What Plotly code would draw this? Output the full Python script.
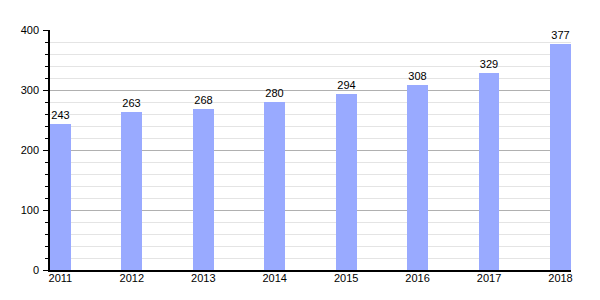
import plotly.graph_objects as go

years = [2011, 2012, 2013, 2014, 2015, 2016, 2017, 2018]
values = [243, 263, 268, 280, 294, 308, 329, 377]
y_ticks = [0, 100, 200, 300, 400]

fig = go.Figure()
fig.add_trace(go.Bar(
    x=years, y=values, width=0.29,
    marker=dict(color="#99aaff", line=dict(width=0)),
    text=[str(v) for v in values], textposition="outside",
    textfont=dict(family="Liberation Sans, Arial", size=11, color="#000"),
    cliponaxis=False,
))

fig.update_layout(
    width=600, height=300,
    margin=dict(l=50, r=29, t=30, b=30),
    paper_bgcolor="white", plot_bgcolor="white",
    showlegend=False,
    bargap=0,
    font=dict(family="Liberation Sans, Arial", size=11, color="#000"),
    xaxis=dict(
        range=[2010.855, 2018.147],
        tickmode="array", tickvals=years, ticktext=[str(y) for y in years],
        showgrid=False, zeroline=False,
        showline=True, linecolor="#000", linewidth=1.5,
        ticks="", ticklen=0, ticklabelstandoff=-3,
        tickfont=dict(size=11, color="#000"),
    ),
    yaxis=dict(
        range=[0, 400],
        tickmode="array", tickvals=y_ticks,
        showgrid=True, gridcolor="#b0b0b0", gridwidth=1,
        zeroline=False,
        showline=True, linecolor="#000", linewidth=1.5,
        ticks="outside", ticklen=5, tickcolor="#000", tickwidth=1,
        ticklabelstandoff=2,
        tickfont=dict(size=11, color="#000"),
        minor=dict(dtick=20, showgrid=True, gridcolor="#e4e4e4", gridwidth=1,
                   ticks="outside", ticklen=3, tickcolor="#000", tickwidth=1),
    ),
)

fig.write_html("out.html")
